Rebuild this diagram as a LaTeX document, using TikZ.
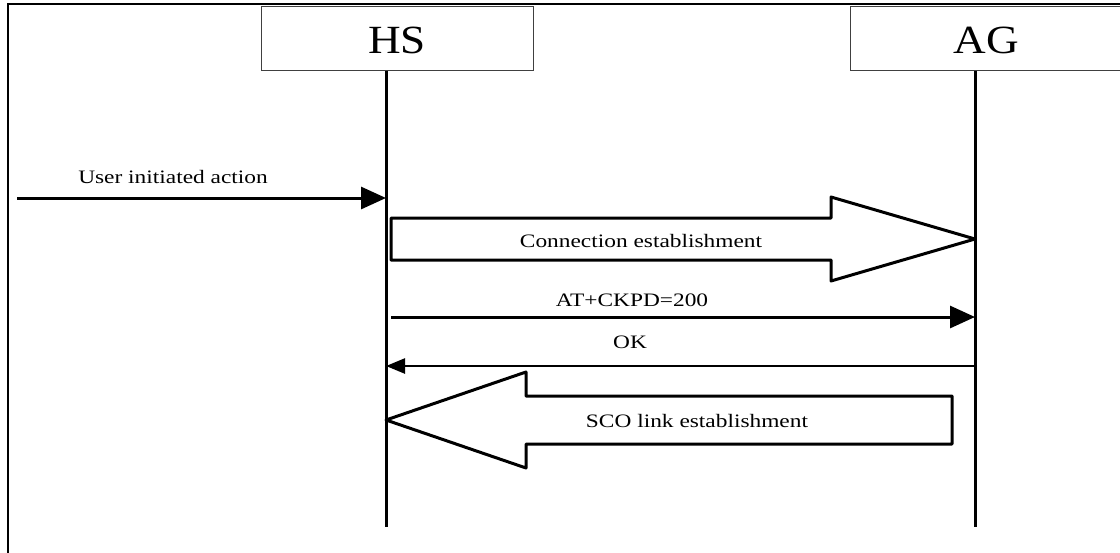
\documentclass[tikz,border=0pt]{standalone}
\usepackage{fontspec}
\setmainfont{Liberation Serif}
\newfontfamily\msgfont[FakeStretch=1.23]{Liberation Serif}
\newfontfamily\entfont[FakeStretch=1.13]{Liberation Serif}
\usetikzlibrary{arrows.meta}
\usetikzlibrary{calc}
\tikzset{
    entity/.style={draw=black!75,line width=1pt,minimum width=272pt,minimum height=64pt,inner sep=0pt,text height=32pt,font=\entfont\fontsize{40}{48}\selectfont},
    life/.style={line width=3pt},
    msg/.style={line width=3pt,-{Triangle[length=25pt,width=22pt]}},
    smallmsg/.style={line width=2.5pt,-{Triangle[length=19pt,width=15pt]}},
    msglabel/.style={inner sep=0pt,anchor=base,font=\msgfont\fontsize{19}{22}\selectfont},
    bigarrow/.style={line width=3pt,line join=round}
}
\def\blockarrow[#1](#2)(#3)(#4:#5:#6){\draw[#1] ($(#2)+(0,-#5)$) -- ($(#3)+(#4,-#5)$) -- ($(#3)+(#4,-#6)$) -- (#3) -- ($(#3)+(#4,#6)$) -- ($(#3)+(#4,#5)$) -- ($(#2)+(0,#5)$) -- cycle}

\begin{document}
\begin{tikzpicture}[x=1pt,y=-1pt]
        \useasboundingbox (0,0) rectangle (1120,552);
        \clip (0,0) rectangle (1120,552);

        %%% FRAME %%%
        \draw[line width=2.5pt] (8,4) rectangle (1140,570);

        %%% ENTITIES & LIFELINES %%%
        \node[entity] (hs) at (397,38) {HS};
        \node[entity] (ag) at (986,38) {AG};
        \coordinate (hstop) at ($(hs.south)+(-11,0)$);
        \coordinate (agtop) at ($(ag.south)+(-11,0)$);
        \coordinate (hsend) at (hstop |- 0,527);
        \coordinate (agend) at (agtop |- 0,527);
        \draw[life] (hstop) -- (hsend);
        \draw[life] (agtop) -- (agend);

        %%% MESSAGES %%%
        \coordinate (user) at (17,198);
        \draw[msg] (user) -- (user -| hstop);
        \node[msglabel] (usertxt) at (173,183) {User initiated action};

        \coordinate (conn) at (391,239);
        \blockarrow[bigarrow](conn)(conn -| agtop)(-144:21:42);
        \node[msglabel] (conntxt) at (641,247) {Connection establishment};

        \coordinate (ckpd) at (391,317);
        \draw[msg] (ckpd) -- (ckpd -| agtop);
        \node[msglabel] (ckpdtxt) at (632,306) {AT+CKPD=200};

        \coordinate (ok) at (977,366);
        \draw[smallmsg] (ok) -- (ok -| hstop);
        \node[msglabel] (oktxt) at (630,348) {OK};

        \coordinate (sco) at (952,420);
        \blockarrow[bigarrow](sco)(sco -| hstop)(140:24:48);
        \node[msglabel] (scotxt) at (697,427) {SCO link establishment};
    \end{tikzpicture}
\end{document}
